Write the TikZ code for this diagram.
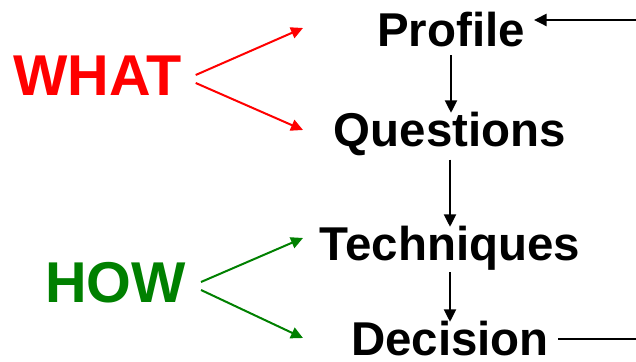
\documentclass[tikz,border=0pt]{standalone}
\usepackage{fontspec}
\setmainfont{Liberation Sans}
\usetikzlibrary{arrows.meta}
\definecolor{ink}{HTML}{000000}
\definecolor{whatred}{HTML}{FF0000}
\definecolor{howgreen}{HTML}{008000}

\begin{document}
\begin{tikzpicture}[
  x=0.04cm, y=-0.04cm,
  stage/.style={font=\fontsize{54}{60}\selectfont\bfseries, text=ink, inner sep=0pt,
    text height=13.6mm, text depth=0pt, anchor=base},
  aspect/.style={font=\fontsize{65.5}{70}\selectfont\bfseries, inner sep=0pt,
    text height=16.8mm, text depth=0pt, anchor=base west},
  flow/.style={-{Triangle[length=5mm,width=4.8mm]}, line width=0.8mm, draw=ink},
  fork/.style={-{Triangle[length=4.8mm,width=4.6mm]}, line width=0.8mm}
]
\useasboundingbox (0,0) rectangle (636,362);

% the four stages, one under the other
\node[stage] (profile) at (451,47) {Profile};
\node[stage] (questions) at (450,147) {Questions};
\node[stage] (techniques) at (450,261) {Techniques};
\node[stage] (decision) at (450,356) {Decision};

\draw[flow, shorten <=3.2mm] (profile.south) -- (profile.south |- questions.north);
\draw[flow, shorten <=5mm] (questions.south) -- (questions.south |- techniques.north);
\draw[flow, shorten <=4.4mm] (techniques.south) -- (techniques.south |- decision.north);

% back from the decision to the profile
\draw[flow, shorten <=3.6mm, shorten >=3.6mm] (decision.east) -- ++(110,0) |- ([shift={(0,-10)}]profile.east);

% what / how labels with their forks
\node[aspect, text=whatred] (what) at (13,96) {WHAT};
\node[aspect, text=howgreen] (how) at (45,303) {HOW};

\coordinate (whatup) at (303,28);
\coordinate (whatdown) at (303,130);
\coordinate (howup) at (303,238);
\coordinate (howdown) at (303,338);

\draw[fork, whatred] ([shift={(14,0)}]what.east) -- (whatup);
\draw[fork, whatred] ([shift={(14,8)}]what.east) -- (whatdown);
\draw[fork, howgreen] ([shift={(15,0)}]how.east) -- (howup);
\draw[fork, howgreen] ([shift={(15,8)}]how.east) -- (howdown);
\end{tikzpicture}
\end{document}
